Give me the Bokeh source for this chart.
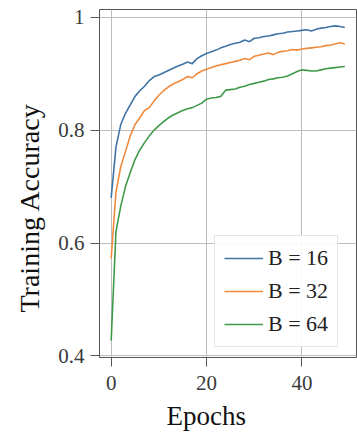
from bokeh.plotting import figure
from bokeh.models import FixedTicker, Legend, LegendItem, Range1d, Title
from bokeh.embed import file_html
from bokeh.resources import INLINE

epochs = list(range(50))
acc_b16 = [0.68, 0.77, 0.81, 0.83, 0.845, 0.86, 0.87, 0.878, 0.888, 0.895,
           0.898, 0.902, 0.906, 0.91, 0.914, 0.917, 0.921, 0.918, 0.927, 0.932,
           0.936, 0.939, 0.942, 0.946, 0.949, 0.952, 0.954, 0.956, 0.96, 0.957,
           0.963, 0.964, 0.966, 0.967, 0.969, 0.971, 0.972, 0.974, 0.975, 0.976,
           0.977, 0.978, 0.976, 0.979, 0.981, 0.982, 0.984, 0.985, 0.984, 0.982]
acc_b32 = [0.573, 0.69, 0.735, 0.762, 0.79, 0.81, 0.822, 0.835, 0.84, 0.852,
           0.862, 0.87, 0.877, 0.882, 0.886, 0.89, 0.895, 0.893, 0.9, 0.905,
           0.908, 0.911, 0.914, 0.916, 0.918, 0.92, 0.922, 0.924, 0.927, 0.925,
           0.931, 0.933, 0.935, 0.937, 0.934, 0.938, 0.94, 0.941, 0.943, 0.942,
           0.944, 0.945, 0.946, 0.947, 0.948, 0.95, 0.951, 0.953, 0.955, 0.953]
acc_b64 = [0.427, 0.62, 0.665, 0.7, 0.725, 0.748, 0.765, 0.778, 0.79, 0.8,
           0.808, 0.815, 0.822, 0.827, 0.831, 0.835, 0.838, 0.84, 0.844, 0.848,
           0.855, 0.857, 0.858, 0.86, 0.871, 0.872, 0.873, 0.876, 0.878, 0.881,
           0.883, 0.885, 0.887, 0.89, 0.891, 0.893, 0.894, 0.896, 0.9, 0.904,
           0.907, 0.906, 0.905, 0.905, 0.907, 0.909, 0.91, 0.911, 0.912, 0.913]
labels = ["B = 16", "B = 32", "B = 64"]
x_ticks = [0, 20, 40]
y_ticks = [0.4, 0.6, 0.8, 1.0]
x_title = "Epochs"
y_title = "Training Accuracy"

colors = ["#3f74a6", "#ef8a3e", "#3f9a4a"]
FONT = "Liberation Serif"

p = figure(output_backend="svg", toolbar_location=None,
           frame_width=257, frame_height=348,
           min_border_left=98, min_border_top=9, min_border_right=2, min_border_bottom=80,
           x_range=Range1d(-2.45, 51.45), y_range=Range1d(0.397, 1.014))
p.background_fill_color = "white"
p.border_fill_color = "white"
p.outline_line_color = "#555555"
p.outline_line_width = 1

renderers = []
for ys, c in zip([acc_b16, acc_b32, acc_b64], colors):
    r = p.line(epochs, ys, line_color=c, line_width=1.6)
    renderers.append(r)

for ax in (p.xaxis[0], p.yaxis[0]):
    ax.axis_line_color = None
    ax.major_tick_line_color = "#555555"
    ax.major_tick_out = 9
    ax.major_tick_in = 0
    ax.minor_tick_line_color = None
    ax.major_label_text_font = FONT
    ax.major_label_text_font_size = "21px"
    ax.major_label_text_color = "#3a3a3a"

p.xaxis.ticker = FixedTicker(ticks=x_ticks)
p.yaxis.ticker = FixedTicker(ticks=y_ticks)
p.yaxis.major_label_overrides = {0.4: "0.4", 0.6: "0.6", 0.8: "0.8", 1.0: "1"}
p.xaxis.major_label_standoff = 9
p.yaxis.major_label_standoff = 6

# axis titles, placed off-centre as in the reference
p.add_layout(Title(text=x_title, align="left", offset=67, standoff=13,
                   text_font=FONT, text_font_size="27px", text_font_style="normal",
                   text_color="#111111"), "below")
p.add_layout(Title(text=y_title, align="left", offset=45, standoff=22,
                   text_font=FONT, text_font_size="28px", text_font_style="normal",
                   text_color="#111111"), "left")

p.xgrid.ticker = FixedTicker(ticks=x_ticks)
p.ygrid.ticker = FixedTicker(ticks=y_ticks)
p.grid.grid_line_color = "#bdbdbd"
p.grid.grid_line_width = 1

legend = Legend(items=[LegendItem(label=l, renderers=[r]) for l, r in zip(labels, renderers)],
                location=(115, 10))
legend.label_text_font = FONT
legend.label_text_font_size = "22px"
legend.label_text_color = "#222222"
legend.glyph_width = 39
legend.glyph_height = 20
legend.label_height = 20
legend.label_standoff = 5
legend.spacing = 7
legend.padding = 9
legend.margin = 0
legend.border_line_color = "#cccccc"
legend.border_line_width = 1
legend.background_fill_alpha = 0.9
p.add_layout(legend, "center")

open("out.html", "w").write(file_html(p, INLINE))
